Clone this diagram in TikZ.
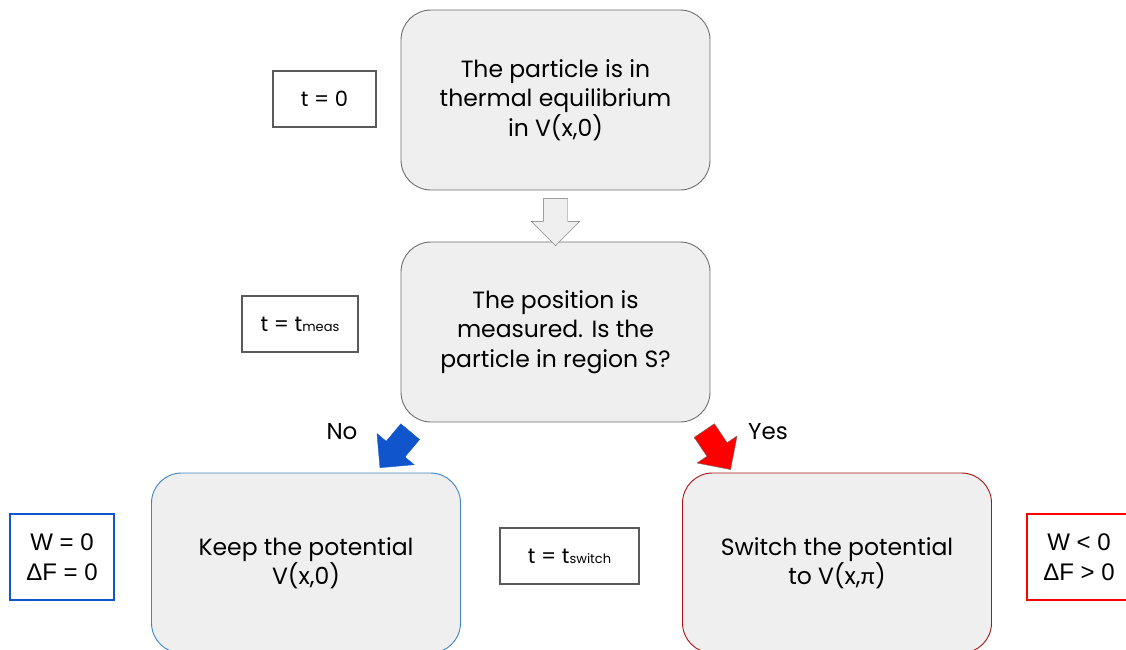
\documentclass[tikz,border=0pt]{standalone}
\usepackage{fontspec}
\setmainfont{Poppins}
\newfontfamily\arialfont{Liberation Sans}
\newfontfamily\greekfont{Lato}
\usetikzlibrary{shapes.arrows, calc}
\definecolor{boxgray}{RGB}{239,239,239}
\definecolor{linegray}{RGB}{110,110,110}
\definecolor{framegray}{RGB}{90,90,90}
\definecolor{myblue}{RGB}{17,85,204}
\definecolor{lightblue}{RGB}{61,133,198}
\definecolor{myred}{RGB}{255,0,0}
\definecolor{darkred}{RGB}{170,20,20}

\begin{document}
\begin{tikzpicture}[x=1pt, y=-1pt,
  stepbox/.style={draw=linegray, line width=0.9pt, fill=boxgray, rounded corners=30pt, minimum width=309pt, minimum height=180pt, align=center, font=\fontsize{23.5}{29.5}\selectfont},
  timebox/.style={draw=framegray, line width=1.6pt, fill=white, minimum height=56pt, font=\fontsize{21}{24}\selectfont},
  resultbox/.style={line width=2pt, fill=white, minimum width=104pt, minimum height=86pt, align=center, font=\arialfont\fontsize{24}{30}\selectfont},
  blockarrow/.style={single arrow, draw=linegray, minimum height=47pt, inner xsep=0pt, inner ysep=12pt, single arrow head extend=12pt}]
  \useasboundingbox (0,0) rectangle (1126,649);
  \clip (0,0) rectangle (1126,649);
  % process steps
  \node[stepbox] (equil) at (555.5,100) {The particle is in\\thermal equilibrium\\in V(x,0)};
  \node[stepbox] (measure) at (555.5,332) {The position is\\measured. Is the\\particle in region S?};
  \node[stepbox, draw=lightblue] (keep) at (306,563) {Keep the potential\\V(x,0)};
  \node[stepbox, draw=darkred] (switch) at (837,563) {Switch the potential\\to V(x,{\greekfont π})};
  % times
  \node[timebox, minimum width=103pt] (tzero) at (324.5,99) {t = 0};
  \node[timebox, minimum width=116pt] (tmeas) at (300,324) {t = t{\fontsize{13}{13}\selectfont meas}};
  \node[timebox, minimum width=139pt] (tswitch) at (569.5,556) {t = t{\fontsize{13}{13}\selectfont switch}};
  % work and free energy
  \node[resultbox, draw=myblue] (wzero) at (62,557) {W = 0\\ΔF = 0};
  \node[resultbox, draw=myred] (wneg) at (1079,557) {W < 0\\ΔF > 0};
  % block arrows
  \node[blockarrow, fill=boxgray, rotate=-90] (down) at ($(equil.south)!0.5!(measure.north)$) {};
  \node[blockarrow, fill=myblue, draw=myblue, rotate=230] (noarrow) at (399,445) {};
  \node[blockarrow, fill=myred, rotate=-56] (yesarrow) at (714,445) {};
  \node[font=\fontsize{23}{25}\selectfont] (no) at (342,432) {No};
  \node[font=\fontsize{23}{25}\selectfont] (yes) at (768,432) {Yes};
\end{tikzpicture}
\end{document}
